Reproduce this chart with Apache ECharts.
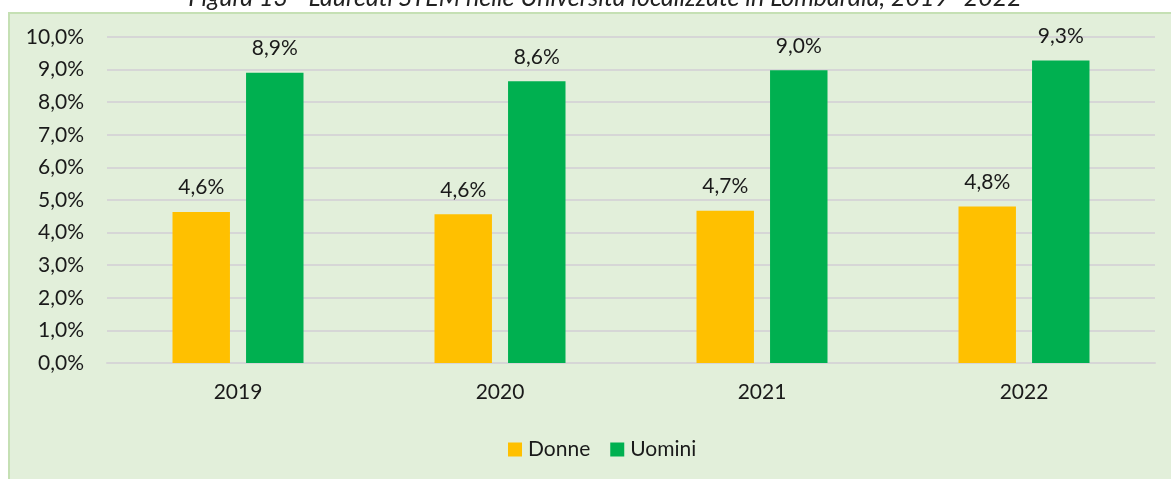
<!DOCTYPE html>
<html>
<head>
<meta charset="utf-8">
<script src="https://cdn.jsdelivr.net/npm/echarts@6/dist/echarts.min.js"></script>
<style>
  html, body { margin: 0; padding: 0; background: #fff; }
  #panel {
    position: absolute; left: 8px; top: 12px; width: 1163px; height: 467px;
    background: #E2EFDA; border-left: 2px solid #C5E0B4; border-top: 2px solid #C5E0B4;
    box-sizing: border-box;
  }
  #main { position: absolute; left: 0; top: 0; width: 1171px; height: 479px; }
</style>
</head>
<body>
<div id="panel"></div>
<div id="main"></div>
<script>
// dati
const titleText = 'Figura 13 - Laureati STEM nelle Università localizzate in Lombardia, 2019 -2022'
const years = ['2019', '2020', '2021', '2022']
const donne = [4.63, 4.56, 4.67, 4.8]
const uomini = [8.9, 8.64, 8.98, 9.28]
const yTicks = [0, 10, 1] // min, max, passo

const fmt = (v) => v.toFixed(1).replace('.', ',') + '%'
const font = 'Lato, "Open Sans", sans-serif'

const chart = echarts.init(document.getElementById('main'), null, { renderer: 'canvas' })

const labelStyle = {
  show: true,
  position: 'top',
  distance: 14,
  color: '#1a1a1a',
  fontSize: 21,
  fontFamily: font,
  formatter: (p) => fmt(p.value)
}

chart.setOption({
  backgroundColor: 'transparent',
  animation: false,
  title: {
    text: titleText,
    left: 600,
    textAlign: 'center',
    top: -20,
    textStyle: { fontSize: 25, fontStyle: 'italic', fontWeight: 'normal', color: '#222', fontFamily: font }
  },
  grid: { left: 107, right: 16, top: 37, bottom: 116 },
  legend: {
    bottom: 14,
    left: 503,
    icon: 'rect',
    itemWidth: 14,
    itemHeight: 14,
    itemGap: 20,
    textStyle: { fontSize: 21, color: '#1a1a1a', fontFamily: font, padding: [0, 0, 0, 1] },
    data: ['Donne', 'Uomini']
  },
  xAxis: {
    type: 'category',
    data: years,
    axisTick: { show: false },
    axisLine: { show: true, lineStyle: { color: '#D6D6D6', width: 2 } },
    axisLabel: { color: '#1a1a1a', fontSize: 21, fontFamily: font, margin: 19 }
  },
  yAxis: {
    type: 'value',
    min: yTicks[0],
    max: yTicks[1],
    interval: yTicks[2],
    axisLine: { show: false },
    axisTick: { show: false },
    axisLabel: { color: '#1a1a1a', fontSize: 21, fontFamily: font, margin: 23, formatter: (v) => fmt(v) },
    splitLine: { lineStyle: { color: '#D6D6D6', width: 2 } }
  },
  series: [
    {
      name: 'Donne',
      type: 'bar',
      data: donne,
      itemStyle: { color: '#FFC000' },
      barGap: '28%',
      barCategoryGap: '50%',
      label: labelStyle
    },
    {
      name: 'Uomini',
      type: 'bar',
      data: uomini,
      itemStyle: { color: '#00B050' },
      label: labelStyle
    }
  ]
})
</script>
</body>
</html>
